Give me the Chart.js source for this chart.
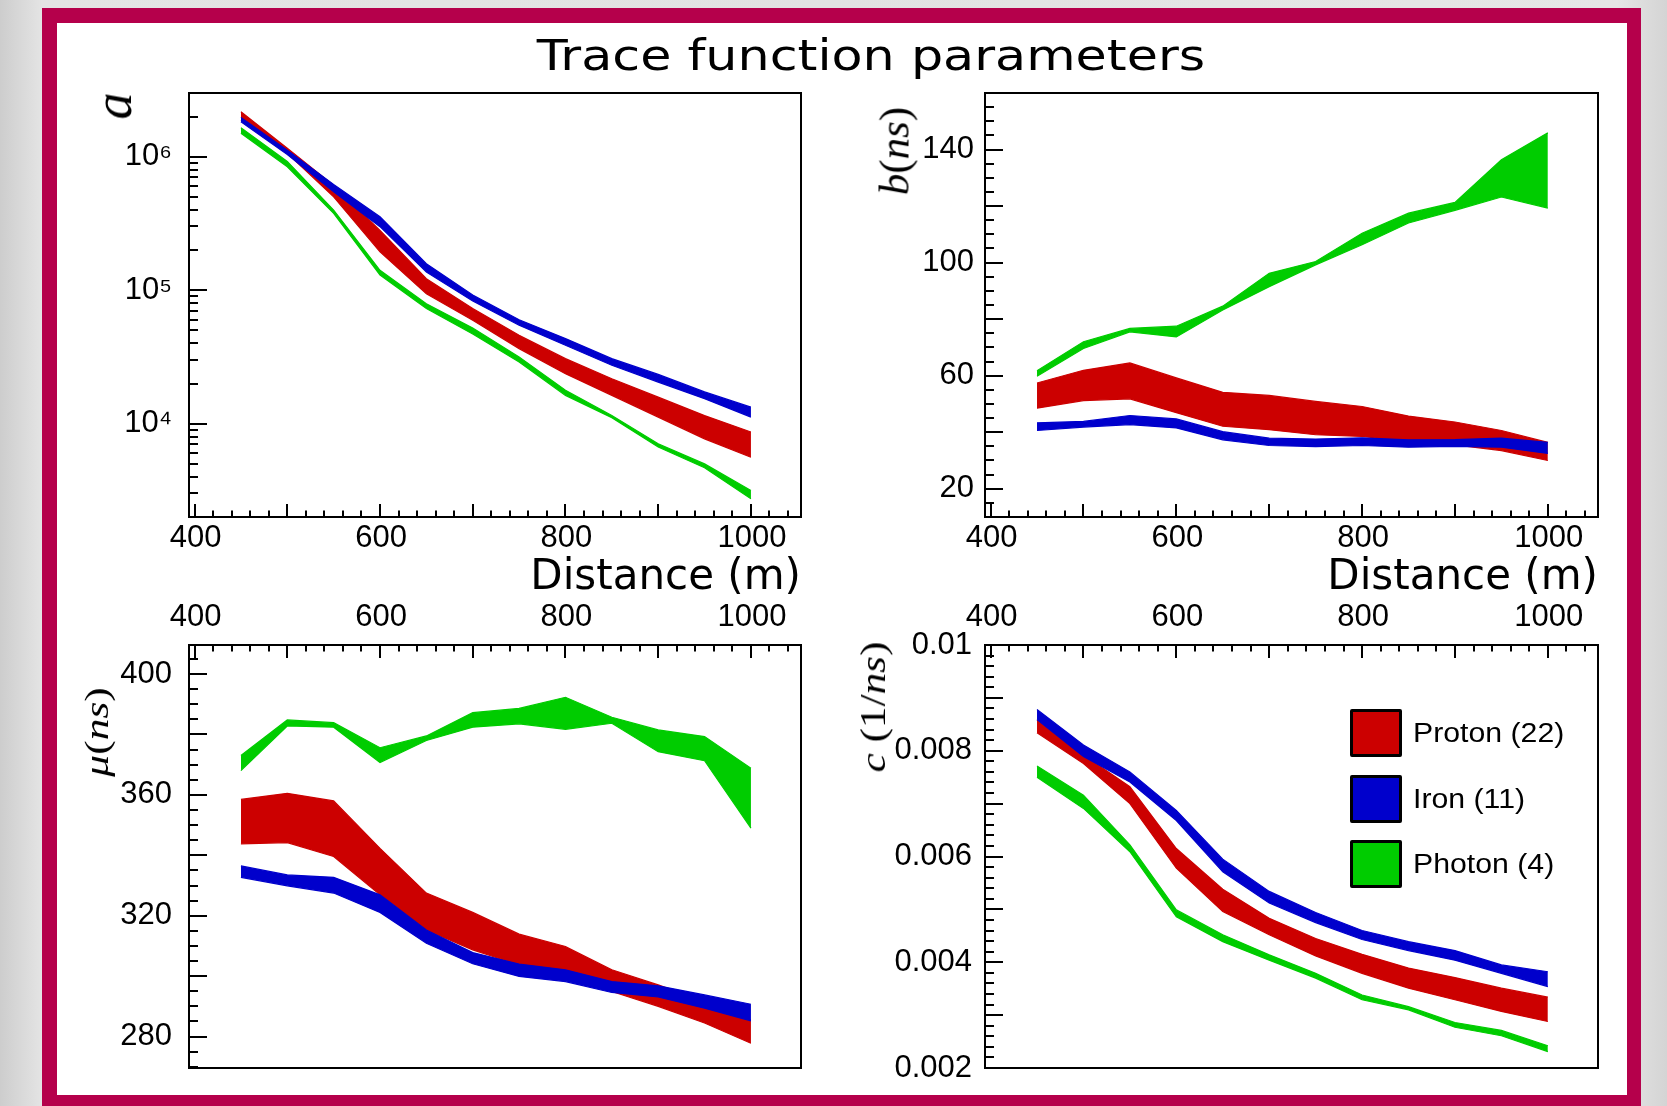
<!DOCTYPE html>
<html>
<head>
<meta charset="utf-8">
<script src="https://cdn.jsdelivr.net/npm/chart.js@4.4.1/dist/chart.umd.min.js"></script>
<style>
  html, body { margin: 0; padding: 0; }
  body {
    width: 1667px; height: 1106px; overflow: hidden; position: relative;
    background: linear-gradient(90deg, #cdcdcd 0%, #e4e4e4 2.5%, #e2e2e2 50%, #e6e6e6 97%, #d4d4d4 100%);
  }
  #frame { position: absolute; left: 42px; top: 8px; width: 1599px; height: 1120px; background: #B5004B; }
  #paper { position: absolute; left: 57px; top: 23px; width: 1570px; height: 1072px; background: #fff; }
  canvas { position: absolute; }
  .txt { position: absolute; white-space: nowrap; color: #000; line-height: 1; }
  #title { font-family: "DejaVu Sans", sans-serif; font-size: 43px; left: 871px; top: 34px;
           transform: translateX(-50%) scaleX(1.18); }
  .ytitle { font-family: "Liberation Serif", serif; transform-origin: center; }
  .ytitle i { font-style: italic; }
  .leg { position: absolute; left: 1350px; width: 46px; height: 42px; border: 3px solid #000; border-radius: 2px; }
  .legtxt { position: absolute; left: 1413px; font-family: "Liberation Sans", sans-serif; font-size: 27px;
            transform-origin: left center; transform: translateY(-50%) scaleX(1.12); white-space: nowrap; line-height: 1; }
</style>
</head>
<body>
<div id="frame"></div>
<div id="paper"></div>
<canvas id="cA"></canvas>
<canvas id="cB"></canvas>
<canvas id="cMu"></canvas>
<canvas id="cC"></canvas>

<div id="title" class="txt">Trace function parameters</div>
<div class="txt ytitle" style="left:113px;top:106px;font-size:54px;transform:translate(-50%,-50%) rotate(-90deg);"><i>a</i></div>
<div class="txt ytitle" style="left:894px;top:151px;font-size:43px;transform:translate(-50%,-50%) rotate(-90deg);"><i>b</i>(<i>ns</i>)</div>
<div class="txt ytitle" style="left:97px;top:732px;font-size:34px;transform:translate(-50%,-50%) rotate(-90deg) scaleX(1.28);"><i>μ</i>(<i>ns</i>)</div>
<div class="txt ytitle" style="left:873px;top:707px;font-size:36px;transform:translate(-50%,-50%) rotate(-90deg) scaleX(1.2);"><i>c</i> (1/<i>ns</i>)</div>

<div id="legend"></div>

<script>
// ---------------- data ----------------
const distances = [450, 500, 550, 600, 650, 700, 750, 800, 850, 900, 950, 1000];

// a (log scale)
const aProtonLow  = [1.88e6, 1.06e6, 5.0e5, 1.94e5, 9.4e4, 5.96e4, 3.65e4, 2.37e4, 1.63e4, 1.12e4, 7.7e3, 5.6e3];
const aProtonHigh = [2.17e6, 1.155e6, 6.1e5, 2.8e5, 1.22e5, 7.3e4, 4.6e4, 3.07e4, 2.17e4, 1.58e4, 1.15e4, 8.66e3];
const aIronLow    = [1.83e6, 1.04e6, 5.47e5, 2.99e5, 1.37e5, 8.3e4, 5.47e4, 3.87e4, 2.74e4, 2.05e4, 1.54e4, 1.12e4];
const aIronHigh   = [1.97e6, 1.12e6, 6.2e5, 3.55e5, 1.58e5, 9.2e4, 6.0e4, 4.34e4, 3.07e4, 2.34e4, 1.73e4, 1.33e4];
const aPhotonLow  = [1.5e6, 8.4e5, 3.76e5, 1.3e5, 7.3e4, 4.7e4, 2.9e4, 1.63e4, 1.11e4, 6.68e3, 4.68e3, 2.74e3];
const aPhotonHigh = [1.65e6, 9.2e5, 3.98e5, 1.41e5, 7.9e4, 5.2e4, 3.16e4, 1.78e4, 1.15e4, 7.08e3, 5.0e3, 3.16e3];

// b (ns)
const bProtonLow  = [48.5, 51.2, 51.8, 46.9, 42.1, 40.9, 39.1, 38.5, 36.7, 35.5, 33.5, 30.0];
const bProtonHigh = [57.4, 61.9, 64.5, 59.2, 54.1, 53.0, 50.9, 49.1, 45.7, 43.6, 40.6, 36.4];
const bIronLow    = [40.6, 41.8, 42.7, 41.5, 37.3, 35.3, 34.9, 35.3, 34.7, 35.0, 34.7, 32.5];
const bIronHigh   = [43.3, 43.8, 45.9, 44.7, 40.2, 37.9, 37.6, 38.0, 37.3, 37.4, 37.9, 36.4];
const bPhotonLow  = [59.8, 69.6, 75.5, 73.7, 83.2, 91.5, 99.2, 106.3, 114.0, 118.5, 123.2, 119.3];
const bPhotonHigh = [61.7, 72.0, 76.7, 77.5, 84.6, 96.2, 100.4, 110.4, 117.5, 121.3, 136.4, 145.9];

// mu (ns)
const muProtonLow  = [343.8, 344.2, 339.6, 326.9, 315.3, 308.7, 303.7, 301.2, 294.9, 290.0, 284.5, 277.8];
const muProtonHigh = [358.5, 360.5, 358.0, 342.3, 327.5, 321.1, 313.9, 309.8, 302.1, 297.1, 291.6, 285.5];
const muIronLow    = [332.7, 329.9, 327.5, 321.1, 310.9, 304.1, 299.9, 298.2, 294.6, 293.1, 289.4, 285.2];
const muIronHigh   = [336.5, 333.5, 332.7, 326.9, 315.3, 307.8, 304.0, 302.1, 298.2, 296.8, 293.8, 290.7];
const muPhotonLow  = [368.0, 382.8, 382.4, 370.7, 378.0, 382.4, 383.5, 381.7, 383.7, 374.3, 371.3, 349.0];
const muPhotonHigh = [373.0, 384.8, 383.9, 375.6, 379.5, 387.2, 388.6, 392.3, 385.7, 381.5, 379.3, 368.8];

// c (1/ns)
const cProtonLow  = [0.00834, 0.00776, 0.00700, 0.00578, 0.00496, 0.00452, 0.00412, 0.00379, 0.00351, 0.00329, 0.00307, 0.00288];
const cProtonHigh = [0.00858, 0.00792, 0.00732, 0.00615, 0.00538, 0.00483, 0.00445, 0.00415, 0.00389, 0.00371, 0.00351, 0.00334];
const cIronLow    = [0.00859, 0.00789, 0.00741, 0.00668, 0.00571, 0.00512, 0.00475, 0.00443, 0.00422, 0.00404, 0.00379, 0.00354];
const cIronHigh   = [0.00878, 0.00811, 0.00760, 0.00687, 0.00595, 0.00534, 0.00494, 0.00460, 0.00439, 0.00422, 0.00395, 0.00382];
const cPhotonLow  = [0.00750, 0.00691, 0.00609, 0.00486, 0.00439, 0.00404, 0.00370, 0.00329, 0.00310, 0.00277, 0.00261, 0.00231];
const cPhotonHigh = [0.00771, 0.00716, 0.00622, 0.00499, 0.00452, 0.00414, 0.00379, 0.00338, 0.00316, 0.00286, 0.00271, 0.00242];

// tick labels
const xTicks  = [400, 600, 800, 1000];
const aTicks  = [1e4, 1e5, 1e6];
const bTicks  = [20, 60, 100, 140];
const muTicks = [280, 320, 360, 400];
const cTicks  = [0.002, 0.004, 0.006, 0.008, 0.01];

// legend
const speciesNames  = ['Proton (22)', 'Iron (11)', 'Photon (4)'];
const speciesColors = ['#CC0000', '#0000CC', '#00CC00'];

// ---------------- helpers ----------------
const toPts = ys => distances.map((d, i) => ({ x: d, y: ys[i] }));
function band(low, high, color) {
  const base = { borderColor: color, backgroundColor: color, borderWidth: 1.2, pointRadius: 0, tension: 0 };
  return [
    Object.assign({ data: toPts(low), fill: false }, base),
    Object.assign({ data: toPts(high), fill: '-1' }, base)
  ];
}
const SUP = { '0': '⁰', '1': '¹', '2': '²', '3': '³', '4': '⁴', '5': '⁵', '6': '⁶', '7': '⁷', '8': '⁸', '9': '⁹' };

const rootTick = {
  id: 'rootTick',
  afterDatasetsDraw(chart, args, o) {
    const { ctx, chartArea: a } = chart;
    const xs = chart.scales.x, ys = chart.scales.y;
    ctx.save();
    ctx.strokeStyle = '#000';
    ctx.lineWidth = 2;
    ctx.beginPath();
    // x ticks (inward)
    const xEdge = o.xTop ? a.top : a.bottom, dir = o.xTop ? 1 : -1;
    for (let k = Math.ceil(xs.min / o.xMinor - 1e-9); k * o.xMinor <= xs.max + 1e-9; k++) {
      const px = Math.round(xs.getPixelForValue(k * o.xMinor));
      const len = (k % o.xEvery === 0) ? 13 : 6.5;
      ctx.moveTo(px, xEdge); ctx.lineTo(px, xEdge + dir * len);
    }
    // y ticks (inward from left)
    if (o.log) {
      const e0 = Math.floor(Math.log10(ys.min)), e1 = Math.ceil(Math.log10(ys.max));
      for (let e = e0; e <= e1; e++) {
        for (let m = 1; m <= 9; m++) {
          const v = m * Math.pow(10, e);
          if (v < ys.min || v > ys.max) continue;
          const py = Math.round(ys.getPixelForValue(v));
          ctx.moveTo(a.left, py); ctx.lineTo(a.left + (m === 1 ? 18 : 9), py);
        }
      }
    } else {
      for (let k = Math.ceil(ys.min / o.yMinor - 1e-9); k * o.yMinor <= ys.max + 1e-12; k++) {
        const py = Math.round(ys.getPixelForValue(k * o.yMinor));
        ctx.moveTo(a.left, py); ctx.lineTo(a.left + ((k % o.yEvery === 0) ? 18 : 9), py);
      }
    }
    ctx.stroke();
    // frame
    ctx.strokeRect(a.left, a.top, a.right - a.left, a.bottom - a.top);
    ctx.restore();
  }
};

const tickFont = { family: 'Liberation Sans', size: 31 };

function makePanel(id, box, cfg) {
  const Wy = 120, Hx = cfg.xTop ? 60 : 95, P = 45;
  const L = box.l - Wy - P;
  const T = (cfg.xTop ? box.t - Hx : box.t) - P;
  const W = box.r + P - L;
  const H = (cfg.xTop ? box.b : box.b + Hx) + P - T;
  const cv = document.getElementById(id);
  cv.width = W; cv.height = H;
  cv.style.left = L + 'px'; cv.style.top = T + 'px';
  cv.style.width = W + 'px'; cv.style.height = H + 'px';
  const yScale = Object.assign({
    position: 'left',
    grid: { display: false, drawTicks: false },
    border: { display: false },
    afterFit: s => { s.width = Wy; },
    afterBuildTicks: s => { s.ticks = cfg.yTicks.map(v => ({ value: v })); },
    ticks: { font: tickFont, color: '#000', padding: cfg.yPad, autoSkip: false, callback: cfg.yLabel }
  }, cfg.yScale);
  new Chart(cv, {
    type: 'line',
    data: { datasets: cfg.datasets },
    options: {
      responsive: false, animation: false, devicePixelRatio: 1,
      layout: { padding: P },
      plugins: { legend: { display: false }, tooltip: { enabled: false },
                 rootTick: { xTop: cfg.xTop, xMinor: 20, xEvery: 5, log: cfg.log, yMinor: cfg.yMinor, yEvery: cfg.yEvery } },
      scales: {
        x: {
          type: 'linear', position: cfg.xTop ? 'top' : 'bottom', min: 394, max: 1054,
          grid: { display: false, drawTicks: false },
          border: { display: false },
          afterFit: s => { s.height = Hx; },
          afterBuildTicks: s => { s.ticks = xTicks.map(v => ({ value: v })); },
          ticks: { font: tickFont, color: '#000', padding: cfg.xTop ? 8.5 : 2.5, labelOffset: 1,
                   autoSkip: false, maxRotation: 0, callback: v => String(v) },
          title: { display: !cfg.xTop, text: 'Distance (m)', align: 'end', color: '#000',
                   font: { family: 'DejaVu Sans', size: 42 }, padding: { top: 0, bottom: 9 } }
        },
        y: yScale
      }
    },
    plugins: [rootTick]
  });
}

// dataset order: photon, iron, proton (proton drawn first, iron over it)
makePanel('cA', { l: 189, t: 93, r: 801, b: 517 }, {
  xTop: false, log: true, yPad: 17,
  yScale: { type: 'logarithmic', min: 2000, max: 3.0e6 },
  yTicks: aTicks,
  yLabel: v => '10' + String(Math.round(Math.log10(v))).split('').map(c => SUP[c]).join(''),
  datasets: [...band(aPhotonLow, aPhotonHigh, speciesColors[2]), ...band(aIronLow, aIronHigh, speciesColors[1]), ...band(aProtonLow, aProtonHigh, speciesColors[0])]
});
makePanel('cB', { l: 985, t: 93, r: 1598, b: 517 }, {
  xTop: false, log: false, yPad: 11, yMinor: 5, yEvery: 4,
  yScale: { type: 'linear', min: 10, max: 160 },
  yTicks: bTicks, yLabel: v => String(v),
  datasets: [...band(bPhotonLow, bPhotonHigh, speciesColors[2]), ...band(bIronLow, bIronHigh, speciesColors[1]), ...band(bProtonLow, bProtonHigh, speciesColors[0])]
});
makePanel('cMu', { l: 189, t: 645, r: 801, b: 1068 }, {
  xTop: true, log: false, yPad: 17, yMinor: 5, yEvery: 4,
  yScale: { type: 'linear', min: 269.6, max: 409.6 },
  yTicks: muTicks, yLabel: v => String(v),
  datasets: [...band(muPhotonLow, muPhotonHigh, speciesColors[2]), ...band(muIronLow, muIronHigh, speciesColors[1]), ...band(muProtonLow, muProtonHigh, speciesColors[0])]
});
makePanel('cC', { l: 985, t: 645, r: 1598, b: 1068 }, {
  xTop: true, log: false, yPad: 13, yMinor: 0.0002, yEvery: 5,
  yScale: { type: 'linear', min: 0.002, max: 0.01 },
  yTicks: cTicks, yLabel: v => String(v),
  datasets: [...band(cPhotonLow, cPhotonHigh, speciesColors[2]), ...band(cIronLow, cIronHigh, speciesColors[1]), ...band(cProtonLow, cProtonHigh, speciesColors[0])]
});

// legend (HTML)
const legTops = [709, 775, 840];
const legend = document.getElementById('legend');
speciesNames.forEach((name, i) => {
  const b = document.createElement('div');
  b.className = 'leg';
  b.style.top = legTops[i] + 'px';
  b.style.background = speciesColors[i];
  legend.appendChild(b);
  const t = document.createElement('div');
  t.className = 'legtxt';
  t.style.top = (legTops[i] + 24) + 'px';
  t.textContent = name;
  legend.appendChild(t);
});
</script>
</body>
</html>
